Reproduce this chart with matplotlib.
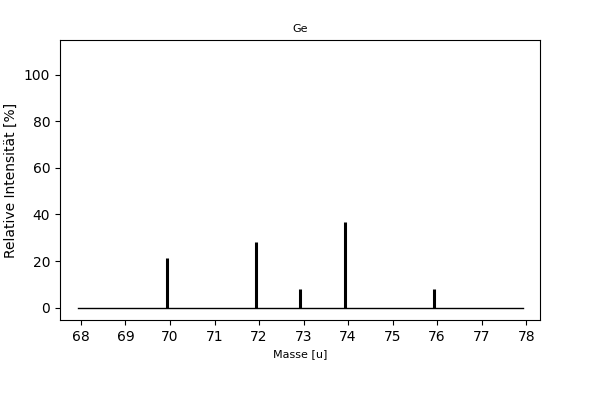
import matplotlib
matplotlib.use('Agg')
import matplotlib.pyplot as plt
import numpy as np

ELEMENT = 'Ge'
MASSES = np.array([69.924, 71.922, 72.923, 73.921, 75.921])
INTENSITIES = np.array([21.1, 28.0, 8.2, 36.6, 7.8])


def main() -> None:
    fig, ax = plt.subplots(figsize=(6, 4), dpi=100)
    fig.subplots_adjust(left=0.1, right=0.9, top=0.9, bottom=0.2)

    ax.plot([MASSES.min() - 2, MASSES.max() + 2], [0, 0], color='black', linewidth=1.0)
    ax.vlines(MASSES, 0, INTENSITIES, color='black', linewidth=2.2)

    ax.set_xlim(67.53, 78.31)
    ax.set_ylim(-5.3, 114.8)
    ax.set_xticks(np.arange(68, 79, 1))
    ax.set_yticks(np.arange(0, 101, 20))
    ax.set_title(ELEMENT, fontsize=8)
    ax.set_xlabel('Masse [u]', fontsize=8)
    ax.set_ylabel('Relative Intensität [%]')

    fig.savefig('out.png')
    plt.close(fig)


if __name__ == '__main__':
    main()
